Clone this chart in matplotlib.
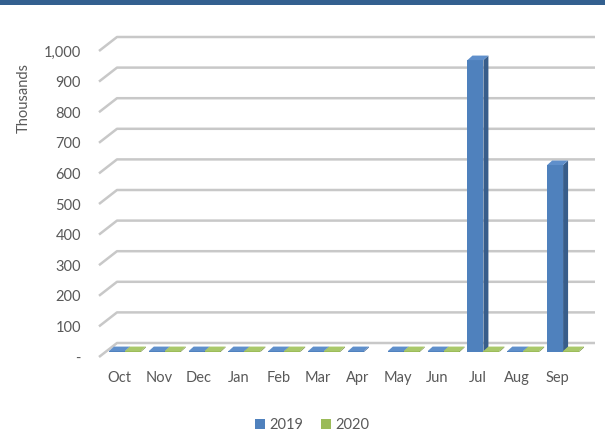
import matplotlib
matplotlib.use('Agg')
import matplotlib.pyplot as plt
from matplotlib.patches import Polygon, Patch, Rectangle
import numpy as np

months = ['Oct', 'Nov', 'Dec', 'Jan', 'Feb', 'Mar', 'Apr', 'May', 'Jun', 'Jul', 'Aug', 'Sep']
series_2019 = [3, 3, 3, 3, 3, 3, 3, 3, 3, 954, 3, 611]
series_2020 = [3, 3, 3, 3, 3, 3, None, 3, 3, 3, 3, 3]
series_names = ['2019', '2020']
yticks = [0, 100, 200, 300, 400, 500, 600, 700, 800, 900, 1000]
ytick_labels = ['-', '100', '200', '300', '400', '500', '600', '700', '800', '900', '1,000']

W, H = 605, 434
fig = plt.figure(figsize=(W / 100, H / 100), dpi=100)
plt.rcParams['font.family'] = ['Lato', 'DejaVu Sans']
txt = '#595959'
fs = 10.5

# top band
fig.add_artist(Rectangle((0, 1 - 5 / H), 1, 5 / H, transform=fig.transFigure,
                         facecolor='#33608F', edgecolor='none'))

ax = fig.add_axes([99 / W, (H - 357) / H, (577 - 99) / W, (357 - 51) / H])
ax.set_xlim(-0.5, 11.5)
ax.set_ylim(0, 1000)
for s in ax.spines.values():
    s.set_visible(False)
ax.set_facecolor('none')
ax.set_yticks(yticks, ytick_labels)
ax.set_xticks(range(len(months)), months)
ax.tick_params(axis='y', length=0, pad=13, labelsize=fs, labelcolor=txt)
ax.tick_params(axis='x', length=0, pad=10, labelsize=fs, labelcolor=txt)
ax.set_ylabel('Thousands', fontsize=fs, color=txt)
ax.yaxis.set_label_coords((31 - 99) / 478, (357 - 98) / 306)

fig.canvas.draw()
T = ax.transData

BACK = np.array([18.0, 14.0])      # back wall offset (px)
BAR = np.array([6.0, 5.0])         # bar front plane offset
DEPTH = np.array([5.0, 4.5])       # bar depth

def px(x, y):
    return T.transform((x, y))

# gridlines
grid_c = '#c8c8c8'
for v in yticks:
    f = px(-0.5, v)
    b = f + BACK
    r = px(11.5, v) + BACK
    fig.add_artist(plt.Line2D([f[0], b[0], r[0]], [f[1], b[1], r[1]], transform=None,
                              color=grid_c, lw=1.8, zorder=1, solid_capstyle='butt',
                              clip_on=False))

colors = {'2019': ('#4F81BD', '#385D8A', '#5F8FCB'),
          '2020': ('#9BBB59', '#71893F', '#A9C86A')}
width = 0.4
z = 2
for i in range(len(months)):
    for k, (name, vals) in enumerate(zip(series_names, [series_2019, series_2020])):
        v = vals[i]
        if v is None:
            continue
        x0 = i - width + k * width
        x1 = x0 + width
        bl = px(x0, 0) + BAR
        br = px(x1, 0) + BAR
        tl = px(x0, v) + BAR
        tr = px(x1, v) + BAR
        front, side, top = colors[name]
        polys = [
            ([bl, br, tr, tl], front),
            ([br, br + DEPTH, tr + DEPTH, tr], side),
            ([tl, tr, tr + DEPTH, tl + DEPTH], top),
        ]
        for pts, c in polys:
            fig.add_artist(Polygon(np.array(pts), closed=True, transform=None,
                                   facecolor=c, edgecolor='none', zorder=z))
        z += 1

handles = [Patch(facecolor=colors[n][0], edgecolor='none', label=n) for n in series_names]
fig.legend(handles=handles, loc='center', bbox_to_anchor=(312 / W, 1 - 425 / H), ncol=2,
           frameon=False, fontsize=fs, handlelength=0.7, handleheight=0.7,
           handletextpad=0.3, columnspacing=1.2, labelcolor=txt)

fig.savefig('out.png', dpi=100)
